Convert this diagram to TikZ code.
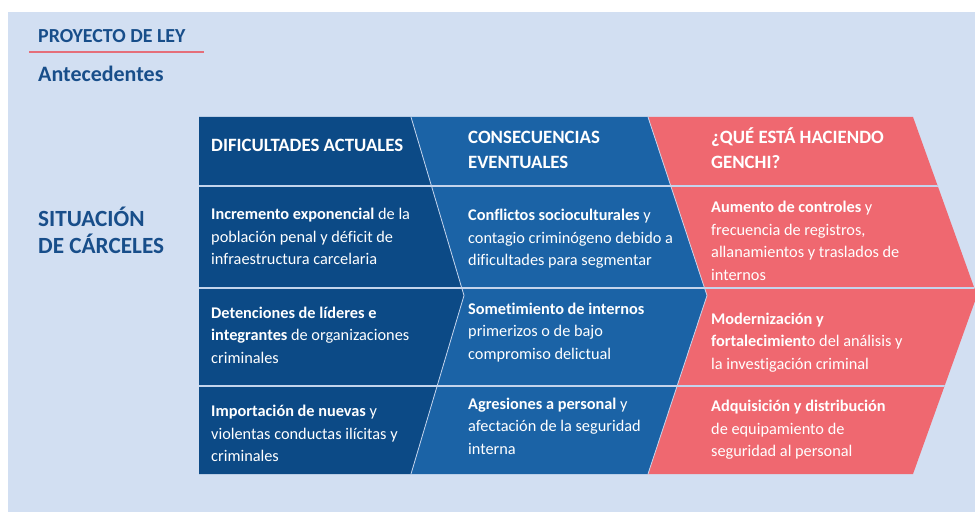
\documentclass[tikz,border=0pt]{standalone}
\usepackage{fontspec}
\setmainfont[Ligatures=NoCommon]{Carlito}
\definecolor{bgc}{RGB}{210,223,242}
\definecolor{dkb}{RGB}{12,74,134}
\definecolor{mdb}{RGB}{27,99,166}
\definecolor{rdc}{RGB}{239,104,112}
\definecolor{ttl}{RGB}{24,78,138}
\definecolor{uln}{RGB}{229,110,122}
\definecolor{sepc}{RGB}{196,212,236}
\tikzset{
  txt/.style={inner sep=0pt, text=white, anchor=base west, font=\fontsize{16.3}{22.5}\selectfont},
  hdr/.style={inner sep=0pt, text=white, anchor=base west, font=\fontsize{18.8}{25}\selectfont\bfseries},
  ttltext/.style={inner sep=0pt, text=ttl, anchor=base west, font=\bfseries},
  sepline/.style={draw=sepc, line width=1.3pt},
  edgeline/.style={draw=sepc, line width=0.8pt}
}
\newcommand{\lines}[1]{\begin{tabular}[t]{@{}l@{}}#1\end{tabular}}
\begin{document}
\begin{tikzpicture}[x=1pt,y=-1pt]
\useasboundingbox (0,0) rectangle (975,513);
\fill[bgc] (8,12) rectangle (975,512);
% titles
\node[ttltext, font=\fontsize{19.9}{22}\selectfont\bfseries] (proy) at (38,42.7) {PROYECTO DE LEY};
\coordinate (ulA) at (29,52);
\coordinate (ulB) at (204,52);
\draw[uln, line width=1.2pt] (ulA) -- (ulB);
\node[ttltext, font=\fontsize{22}{24}\selectfont\bfseries] (ante) at (38,81.7) {Antecedentes};
\node[ttltext, font=\fontsize{23.2}{24}\selectfont\bfseries] (sit) at (38,226.7) {\begin{tabular}[t]{@{}l@{}}SITUACIÓN\\DE CÁRCELES\end{tabular}};
% shapes
\fill[dkb] (199,117) -- (411,117) -- (464,295.5) -- (411,474) -- (199,474) -- cycle;
\fill[mdb] (411,117) -- (648,117) -- (707,295.5) -- (648,474) -- (411,474) -- (464,295.5) -- cycle;
\fill[rdc] (648,117) -- (913,117) -- (977,295.5) -- (913,474) -- (648,474) -- (707,295.5) -- cycle;
\begin{scope}
\clip (199,117) -- (913,117) -- (977,295.5) -- (913,474) -- (199,474) -- cycle;
\draw[sepline] (199,186) -- (990,186);
\draw[sepline] (199,288) -- (990,288);
\draw[sepline] (199,386) -- (990,386);
\end{scope}
\draw[edgeline] (411,117) -- (464,295.5) -- (411,474);
\draw[edgeline] (648,117) -- (707,295.5) -- (648,474);
% headers
\node[hdr] (h1) at (211,152) {\lines{DIFICULTADES ACTUALES}};
\node[hdr] (h2) at (468,144) {\lines{CONSECUENCIAS\\EVENTUALES}};
\node[hdr] (h3) at (711,144) {\lines{¿QUÉ ESTÁ HACIENDO\\GENCHI?}};
% row 1
\node[txt] (a1) at (211,220) {\lines{\textbf{Incremento exponencial} de la\\población penal y déficit de\\infraestructura carcelaria}};
\node[txt] (b1) at (468,221) {\lines{\textbf{Conflictos socioculturales} y\\contagio criminógeno debido a\\dificultades para segmentar}};
\node[txt] (c1) at (711,213) {\lines{\textbf{Aumento de controles} y\\frecuencia de registros,\\allanamientos y traslados de\\internos}};
% row 2
\node[txt] (a2) at (211,318.3) {\lines{\textbf{Detenciones de líderes e}\\\textbf{integrantes} de organizaciones\\criminales}};
\node[txt] (b2) at (468,314.3) {\lines{\textbf{Sometimiento de internos}\\primerizos o de bajo\\compromiso delictual}};
\node[txt] (c2) at (711,324.3) {\lines{\textbf{Modernización y}\\\textbf{fortalecimient}o del análisis y\\la investigación criminal}};
% row 3
\node[txt] (a3) at (211,416.7) {\lines{\textbf{Importación de nuevas} y\\violentas conductas ilícitas y\\criminales}};
\node[txt] (b3) at (468,409.3) {\lines{\textbf{Agresiones a personal} y\\afectación de la seguridad\\interna}};
\node[txt] (c3) at (711,411.7) {\lines{\textbf{Adquisición y distribución}\\de equipamiento de\\seguridad al personal}};
\end{tikzpicture}
\end{document}
